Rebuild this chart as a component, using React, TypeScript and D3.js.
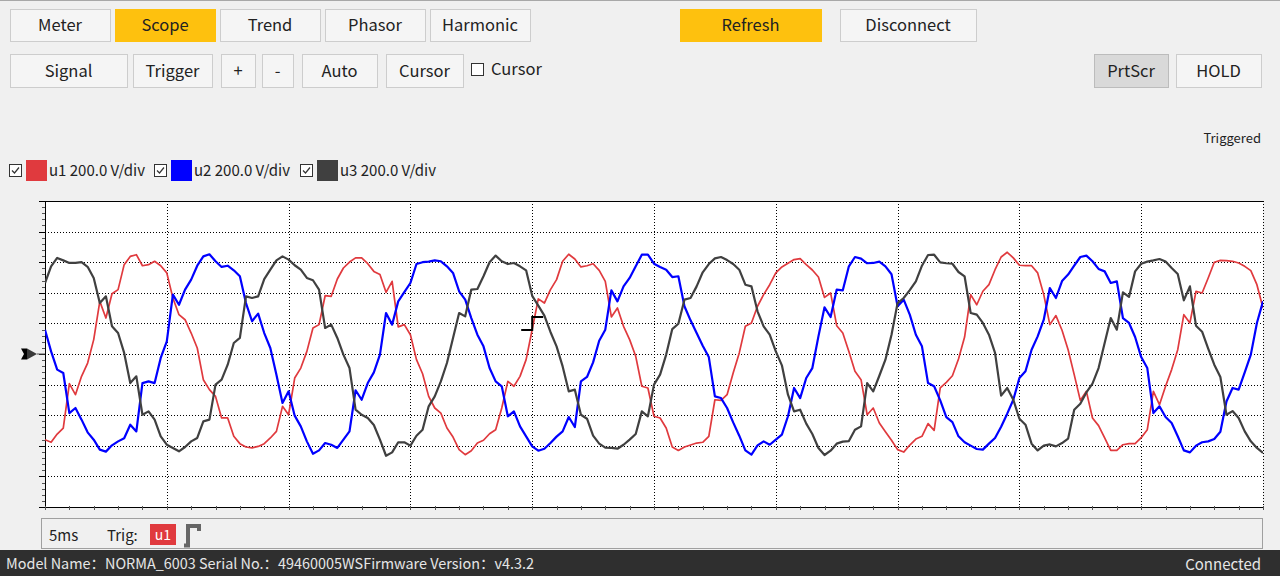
import React, { useEffect, useRef } from 'react';
import * as d3 from 'd3';

// scope capture: 201 samples, one every 0.25 ms, values in volts
const sampleStepMs = 0.25;

const u1Volts = [
  -560, -577, -523, -484, -194, -266, -146, -59, 94, 344, 235, 394, 421, 584, 638, 649, 577, 584, 606, 577,
  530, 366, 257, 224, 137, 39, -168, -233, -277, -418, -418, -538, -586, -608, -614, -604, -586, -549, -506, -342,
  -397, -157, -92, 17, 170, 192, 381, 377, 490, 562, 601, 628, 628, 590, 540, 519, 403, 475, 177, 192,
  126, -37, -129, -277, -353, -386, -484, -543, -625, -658, -632, -582, -564, -521, -495, -353, -179, -211, -146, -37,
  160, 360, 333, 421, 486, 606, 652, 621, 569, 577, 590, 547, 475, 242, 301, 181, 94, -15, -211, -222,
  -407, -418, -484, -608, -630, -608, -595, -582, -577, -538, -299, -303, -266, -124, 7, 181, 203, 312, 388, 453,
  530, 569, 593, 617, 623, 584, 549, 503, 370, 399, 185, 137, 17, -113, -168, -397, -353, -451, -508, -564,
  -625, -641, -595, -556, -538, -455, -499, -222, -185, -142, -33, 111, 388, 322, 410, 453, 551, 634, 665, 628,
  580, 577, 577, 530, 388, 192, 251, 155, 28, -135, -303, -244, -418, -468, -549, -630, -630, -593, -586, -586,
  -547, -495, -244, -331, -211, -102, 28, 257, 203, 410, 399, 497, 600, 612, 610, 606, 595, 573, 545, 453,
  301,
];

const u2Volts = [
  159, 17, -102, -124, -386, -353, -429, -512, -560, -625, -638, -597, -571, -551, -462, -506, -190, -179, -190, -26,
  83, 388, 322, 421, 486, 577, 638, 652, 606, 569, 577, 547, 508, 333, 214, 264, 137, 39, -135, -320,
  -244, -403, -473, -571, -652, -630, -582, -593, -614, -560, -506, -237, -299, -190, -120, -4, 268, 192, 344, 405,
  464, 588, 600, 604, 612, 606, 573, 530, 410, 355, 235, 126, 50, -92, -179, -211, -407, -375, -473, -538,
  -604, -632, -619, -582, -540, -506, -412, -477, -179, -150, -55, 87, 159, 416, 344, 442, 497, 573, 649, 649,
  590, 569, 551, 503, 508, 312, 220, 137, 54, -20, -277, -288, -353, -447, -534, -630, -658, -597, -571, -593,
  -560, -527, -407, -222, -288, -157, -92, 115, 305, 242, 421, 416, 573, 634, 623, 593, 595, 604, 573, 521,
  312, 355, 257, 126, 50, -190, -211, -303, -412, -445, -538, -577, -599, -621, -625, -586, -549, -475, -390, -299,
  -157, -113, 28, 115, 224, 431, 366, 477, 519, 577, 634, 643, 606, 556, 540, 464, 475, 235, 203, 111,
  -20, -92, -386, -342, -412, -451, -538, -630, -643, -599, -577, -571, -556, -508, -310, -222, -233, -120, -4, 203,
  344,
];

const u3Volts = [
  464, 573, 628, 612, 595, 595, 600, 570, 497, 333, 377, 181, 137, 7, -190, -146, -397, -375, -429, -538,
  -593, -614, -636, -608, -571, -549, -440, -429, -200, -168, -70, 72, 105, 377, 366, 377, 490, 551, 612, 638,
  617, 580, 551, 497, 482, 421, 170, 192, 105, -4, -92, -364, -397, -418, -464, -560, -665, -643, -577, -577,
  -599, -534, -495, -342, -277, -179, -59, 105, 268, 246, 421, 425, 508, 600, 643, 606, 588, 595, 573, 547,
  380, 316, 251, 144, 50, -81, -244, -233, -397, -423, -534, -586, -612, -614, -619, -593, -560, -523, -375, -407,
  -200, -135, -4, 163, 198, 355, 366, 442, 534, 588, 625, 634, 614, 588, 551, 453, 442, 279, 181, 126,
  17, -74, -266, -375, -364, -455, -523, -614, -660, -632, -586, -573, -569, -495, -473, -190, -244, -142, -37, 126,
  333, 366, 418, 475, 577, 647, 649, 599, 593, 590, 536, 508, 268, 257, 203, 126, 7, -272, -222, -299,
  -423, -462, -586, -630, -599, -591, -604, -582, -553, -364, -325, -251, -194, -92, 72, 235, 159, 403, 373, 540,
  590, 604, 612, 621, 604, 562, 523, 351, 442, 185, 146, 35, -70, -150, -397, -373, -418, -506, -571, -614,
  -647,
];

const timeGridMs = [0, 5, 10, 15, 20, 25, 30, 35, 40, 45, 50];
const voltGrid = [-1000, -800, -600, -400, -200, 0, 200, 400, 600, 800, 1000];
const channelNames = ['u1', 'u2', 'u3'];
const channelScale = ['200.0 V/div', '200.0 V/div', '200.0 V/div'];
const triggerTimeMs = 20;
const triggerLevelV = 200;

const FONT = '"Noto Sans CJK SC", "Noto Sans", sans-serif';
const YELLOW = '#fec10e';
const channelColors = ['#e03a3e', '#0000ff', '#404040'];
const channelWidths = [1.7, 2.2, 2.2];

export default function App() {
  const svgRef = useRef<SVGSVGElement>(null);

  useEffect(() => {
    if (!svgRef.current) return;
    const svg = d3.select(svgRef.current);
    svg.selectAll('*').remove();

    const width = 1280;
    const height = 576;
    const plot = { left: 45, right: 1263, top: 201, bottom: 507 };

    svg.attr('width', width).attr('height', height);
    svg.append('rect').attr('width', width).attr('height', height).attr('fill', '#f0f0f0');
    svg.append('line').attr('x1', 0).attr('x2', width).attr('y1', 0.5).attr('y2', 0.5).attr('stroke', '#a8a8a8');

    // toolbar buttons
    const button = (x: number, y: number, w: number, h: number, label: string, fill = '#f5f5f5', stroke = '#cdcdcd') => {
      svg.append('rect')
        .attr('x', x + 0.5).attr('y', y + 0.5).attr('width', w).attr('height', h)
        .attr('fill', fill).attr('stroke', stroke);
      svg.append('text')
        .attr('x', x + w / 2).attr('y', y + h / 2 + 6)
        .attr('text-anchor', 'middle')
        .style('font-family', FONT).style('font-size', '16.5px').style('fill', '#222')
        .text(label);
    };

    button(10, 9, 100, 32, 'Meter');
    button(115, 9, 100, 32, 'Scope', YELLOW, YELLOW);
    button(220, 9, 100, 32, 'Trend');
    button(325, 9, 100, 32, 'Phasor');
    button(430, 9, 100, 32, 'Harmonic');
    button(680, 9, 141, 32, 'Refresh', YELLOW, YELLOW);
    button(840, 9, 136, 32, 'Disconnect');

    button(10, 54, 117, 33, 'Signal');
    button(133, 54, 79, 33, 'Trigger');
    button(221, 54, 34, 33, '+');
    button(262, 54, 31, 33, '-');
    button(302, 54, 75, 33, 'Auto');
    button(386, 54, 77, 33, 'Cursor');
    button(1094, 54, 74, 33, 'PrtScr', '#d9d9d9', '#bcbcbc');
    button(1176, 54, 85, 33, 'HOLD');

    svg.append('rect').attr('x', 471.5).attr('y', 63.5).attr('width', 12).attr('height', 12)
      .attr('fill', '#fff').attr('stroke', '#333');
    svg.append('text').attr('x', 491).attr('y', 75)
      .style('font-family', FONT).style('font-size', '16.5px').style('fill', '#222').text('Cursor');

    svg.append('text').attr('x', 1261).attr('y', 143).attr('text-anchor', 'end')
      .style('font-family', FONT).style('font-size', '13px').style('fill', '#222').text('Triggered');

    // legend
    const legendX = [9, 154, 300];
    channelNames.forEach((name, i) => {
      const bx = legendX[i];
      svg.append('rect').attr('x', bx + 0.5).attr('y', 164.5).attr('width', 12).attr('height', 12)
        .attr('fill', '#fff').attr('stroke', '#333');
      svg.append('path')
        .attr('d', `M${bx + 3},${170.5} L${bx + 5.5},${173} L${bx + 10},${167.5}`)
        .attr('fill', 'none').attr('stroke', '#333').attr('stroke-width', 1.2);
      svg.append('rect').attr('x', bx + 17).attr('y', 160).attr('width', 21).attr('height', 21)
        .attr('fill', channelColors[i]);
      svg.append('text').attr('x', bx + 40).attr('y', 176)
        .style('font-family', FONT).style('font-size', '15px').style('fill', '#222')
        .text(`${name} ${channelScale[i]}`);
    });

    // scales
    const x = d3.scaleLinear().domain([0, 50]).range([plot.left, plot.right]);
    const y = d3.scaleLinear().domain([-1000, 1000]).range([plot.bottom, plot.top]);

    svg.append('rect')
      .attr('x', plot.left).attr('y', plot.top)
      .attr('width', plot.right - plot.left).attr('height', plot.bottom - plot.top)
      .attr('fill', '#fff');

    // dotted grid
    const grid = svg.append('g').attr('stroke', '#000').attr('stroke-dasharray', '1,2').attr('stroke-width', 1);
    timeGridMs.slice(1).forEach(t => {
      grid.append('line').attr('x1', Math.round(x(t)) + 0.5).attr('x2', Math.round(x(t)) + 0.5)
        .attr('y1', plot.top).attr('y2', plot.bottom);
    });
    voltGrid.slice(1, -1).forEach(v => {
      grid.append('line').attr('y1', Math.round(y(v)) + 0.5).attr('y2', Math.round(y(v)) + 0.5)
        .attr('x1', plot.left).attr('x2', plot.right);
    });

    // axes frame and ticks
    const frame = svg.append('g').attr('stroke', '#000').attr('stroke-width', 1);
    frame.append('line').attr('x1', 40).attr('x2', plot.right).attr('y1', plot.top + 0.5).attr('y2', plot.top + 0.5);
    frame.append('line').attr('x1', 40).attr('x2', plot.right).attr('y1', plot.bottom + 0.5).attr('y2', plot.bottom + 0.5);
    frame.append('line').attr('x1', plot.left + 0.5).attr('x2', plot.left + 0.5).attr('y1', plot.top).attr('y2', plot.bottom);

    const minorV = d3.range(-1000, 1001, 40);
    minorV.forEach(v => {
      const major = v % 200 === 0;
      const yy = Math.round(y(v)) + 0.5;
      frame.append('line').attr('x1', major ? 39 : 42).attr('x2', plot.left).attr('y1', yy).attr('y2', yy)
        .attr('stroke', major ? '#000' : '#555');
    });
    const minorT = d3.range(0, 50.01, 1);
    minorT.forEach(t => {
      const xx = Math.round(x(t)) + 0.5;
      frame.append('line').attr('x1', xx).attr('x2', xx).attr('y1', plot.bottom - 1).attr('y2', plot.bottom + 3)
        .attr('stroke', '#555');
    });

    // waveforms
    svg.append('clipPath').attr('id', 'plot-clip')
      .append('rect').attr('x', plot.left).attr('y', plot.top)
      .attr('width', plot.right - plot.left).attr('height', plot.bottom - plot.top);

    const line = d3.line<number>()
      .x((_, i) => x(i * sampleStepMs))
      .y(d => y(d))
      .curve(d3.curveLinear);

    const traces = svg.append('g').attr('clip-path', 'url(#plot-clip)');
    [u1Volts, u2Volts, u3Volts].forEach((values, i) => {
      traces.append('path')
        .datum(values)
        .attr('d', line)
        .attr('fill', 'none')
        .attr('stroke', channelColors[i])
        .attr('stroke-width', channelWidths[i])
        .attr('stroke-linejoin', 'round');
    });

    // trigger marker
    const tx = x(triggerTimeMs);
    const ty = y(triggerLevelV);
    svg.append('path')
      .attr('d', `M${tx - 11},${ty + 6.5} H${tx} V${ty - 6.5} H${tx + 11}`)
      .attr('fill', 'none').attr('stroke', '#000').attr('stroke-width', 2);

    // zero-level marker on the left
    const zy = y(0);
    svg.append('path')
      .attr('d', `M21,${zy - 5.5} L27,${zy - 5.5} L30,${zy} L27,${zy + 5.5} L21,${zy + 5.5} L24,${zy} Z`)
      .attr('fill', '#000');
    svg.append('path')
      .attr('d', `M27,${zy - 5.5} L37,${zy} L27,${zy + 5.5} Z`)
      .attr('fill', '#3a3a3a');
    svg.append('line').attr('x1', 37).attr('x2', plot.left).attr('y1', zy).attr('y2', zy).attr('stroke', '#555');

    // bottom info panel
    svg.append('rect').attr('x', 41.5).attr('y', 518.5).attr('width', 1221).attr('height', 30)
      .attr('fill', '#f0f0f0').attr('stroke', '#a0a0a0');
    svg.append('text').attr('x', 49).attr('y', 541)
      .style('font-family', FONT).style('font-size', '15px').style('fill', '#222').text('5ms');
    svg.append('text').attr('x', 107).attr('y', 541)
      .style('font-family', FONT).style('font-size', '15px').style('fill', '#222').text('Trig:');
    svg.append('rect').attr('x', 150).attr('y', 524).attr('width', 26).attr('height', 21).attr('fill', channelColors[0]);
    svg.append('text').attr('x', 163).attr('y', 540).attr('text-anchor', 'middle')
      .style('font-family', FONT).style('font-size', '14px').style('fill', '#fff').text('u1');
    svg.append('path')
      .attr('d', 'M184,545.5 H188 V526 H199 V531')
      .attr('fill', 'none').attr('stroke', '#666').attr('stroke-width', 4);

    // status bar
    svg.append('rect').attr('x', 0).attr('y', 550).attr('width', width).attr('height', 26).attr('fill', '#2f2f2f');
    svg.append('text').attr('x', 6).attr('y', 569)
      .attr('textLength', 528).attr('lengthAdjust', 'spacingAndGlyphs')
      .style('font-family', FONT).style('font-size', '14.5px').style('fill', '#e6e6e6')
      .text('Model Name：NORMA_6003 Serial No.：49460005WSFirmware Version：v4.3.2');
    svg.append('text').attr('x', 1261).attr('y', 570).attr('text-anchor', 'end')
      .style('font-family', FONT).style('font-size', '15px').style('fill', '#e6e6e6').text('Connected');
  }, []);

  return (
    <div style={{ position: 'absolute', left: 0, top: 0, width: 1280, height: 576 }}>
      <svg ref={svgRef} style={{ display: 'block', width: '1280px', height: '576px' }} />
    </div>
  );
}
